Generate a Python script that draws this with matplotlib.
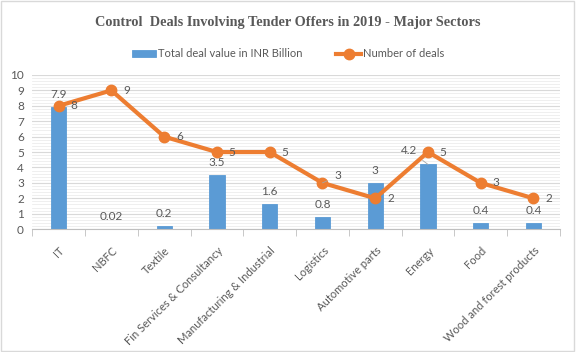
import matplotlib.pyplot as plt
import matplotlib.transforms as mtransforms
import numpy as np
from matplotlib.patches import Rectangle
from matplotlib.ticker import MultipleLocator

sectors = ["IT", "NBFC", "Textile", "Fin Services & Consultancy",
           "Manufacturing & Industrial", "Logistics", "Automotive parts",
           "Energy", "Food", "Wood and forest products"]
deal_value = [7.9, 0.02, 0.2, 3.5, 1.6, 0.8, 3, 4.2, 0.4, 0.4]
deal_value_text = ["7.9", "0.02", "0.2", "3.5", "1.6", "0.8", "3", "4.2", "0.4", "0.4"]
num_deals = [8, 9, 6, 5, 5, 3, 2, 5, 3, 2]

blue = "#5B9BD5"
orange = "#ED7D31"
grey = "#595959"
font = ["Lato", "DejaVu Sans"]

figure = plt.figure(figsize=(5.76, 3.52), dpi=100)
figure.patch.set_facecolor("white")
figure.add_artist(Rectangle((0.002, 0.003), 0.995, 0.994, transform=figure.transFigure,
                            fill=False, edgecolor="#D9D9D9", linewidth=1))

ax = figure.add_axes([0.056, 0.349, 0.916, 0.438])
x = np.arange(len(sectors))

bars = ax.bar(x, deal_value, width=0.29, color=blue, edgecolor=blue, linewidth=0.6,
              zorder=2, label="Total deal value in INR Billion")
line, = ax.plot(x, num_deals, color=orange, linewidth=3, marker="o", markersize=7.5,
                zorder=3, label="Number of deals")

ax.set_xlim(-0.5, len(sectors) - 0.5)
ax.set_ylim(0, 10)
ax.yaxis.set_major_locator(MultipleLocator(1))
ax.yaxis.set_minor_locator(MultipleLocator(0.2))
ax.grid(which="major", axis="y", color="#D9D9D9", linewidth=0.8, zorder=0)
ax.grid(which="minor", axis="y", color="#EDEDED", linewidth=0.6, zorder=0)
ax.set_axisbelow(True)
for s in ["top", "right", "left"]:
    ax.spines[s].set_visible(False)
ax.spines["bottom"].set_color("#BFBFBF")

ax.tick_params(axis="y", which="both", length=0, labelsize=8.5, labelcolor=grey, pad=6)
ax.set_xticks(x)
ax.set_xticklabels(sectors, rotation=45, ha="right", va="center", rotation_mode="anchor",
                   fontsize=8, color=grey, family=font)
ax.tick_params(axis="x", which="major", length=0, pad=12)
ax.set_xticks(np.arange(-0.5, len(sectors)), minor=True)
ax.tick_params(axis="x", which="minor", length=5, color="#BFBFBF")
for lab in ax.get_yticklabels():
    lab.set_family(font)

# nudge rotated labels so they end under the category centre, like Excel
shift = mtransforms.ScaledTranslation(4 / 100, -3 / 100, figure.dpi_scale_trans)
for lab in ax.get_xticklabels():
    lab.set_transform(lab.get_transform() + shift)

# bar labels
for i, (v, t) in enumerate(zip(deal_value, deal_value_text)):
    if sectors[i] == "Energy":
        ax.annotate(t, xy=(i, v), xytext=(i - 0.35, 5.1), textcoords="data",
                    ha="center", va="center", fontsize=8.5, color=grey, family=font,
                    zorder=5,
                    arrowprops=dict(arrowstyle="-", color="#A6A6A6", lw=0.6,
                                    shrinkA=2, shrinkB=0))
    else:
        ax.annotate(t, xy=(i, v), xytext=(0, 9), textcoords="offset points",
                    ha="center", va="center", fontsize=8.5, color=grey, family=font,
                    zorder=5)

# line labels
for i, n in enumerate(num_deals):
    if sectors[i] == "Logistics":
        ax.annotate(str(n), xy=(i, n), xytext=(i + 0.3, n + 0.45), textcoords="data",
                    ha="center", va="center", fontsize=8.5, color=grey, family=font,
                    zorder=5,
                    arrowprops=dict(arrowstyle="-", color="#A6A6A6", lw=0.6,
                                    shrinkA=4, shrinkB=5))
    else:
        ax.annotate(str(n), xy=(i, n), xytext=(11, 0), textcoords="offset points",
                    ha="center", va="center", fontsize=8.5, color=grey, family=font,
                    zorder=5)

figure.legend(handles=[bars, line], loc="center", bbox_to_anchor=(0.5, 0.847), ncol=2,
              frameon=False, prop={"family": font, "size": 8}, labelcolor=grey,
              handlelength=2.2, handleheight=0.6, columnspacing=3.0, handletextpad=0.2)

figure.text(0.5, 0.935, "Control  Deals Involving Tender Offers in 2019 - Major Sectors",
            ha="center", va="center", fontsize=10.3, fontweight="bold", color=grey,
            family="Liberation Serif")

figure.savefig("out.png", dpi=100)
